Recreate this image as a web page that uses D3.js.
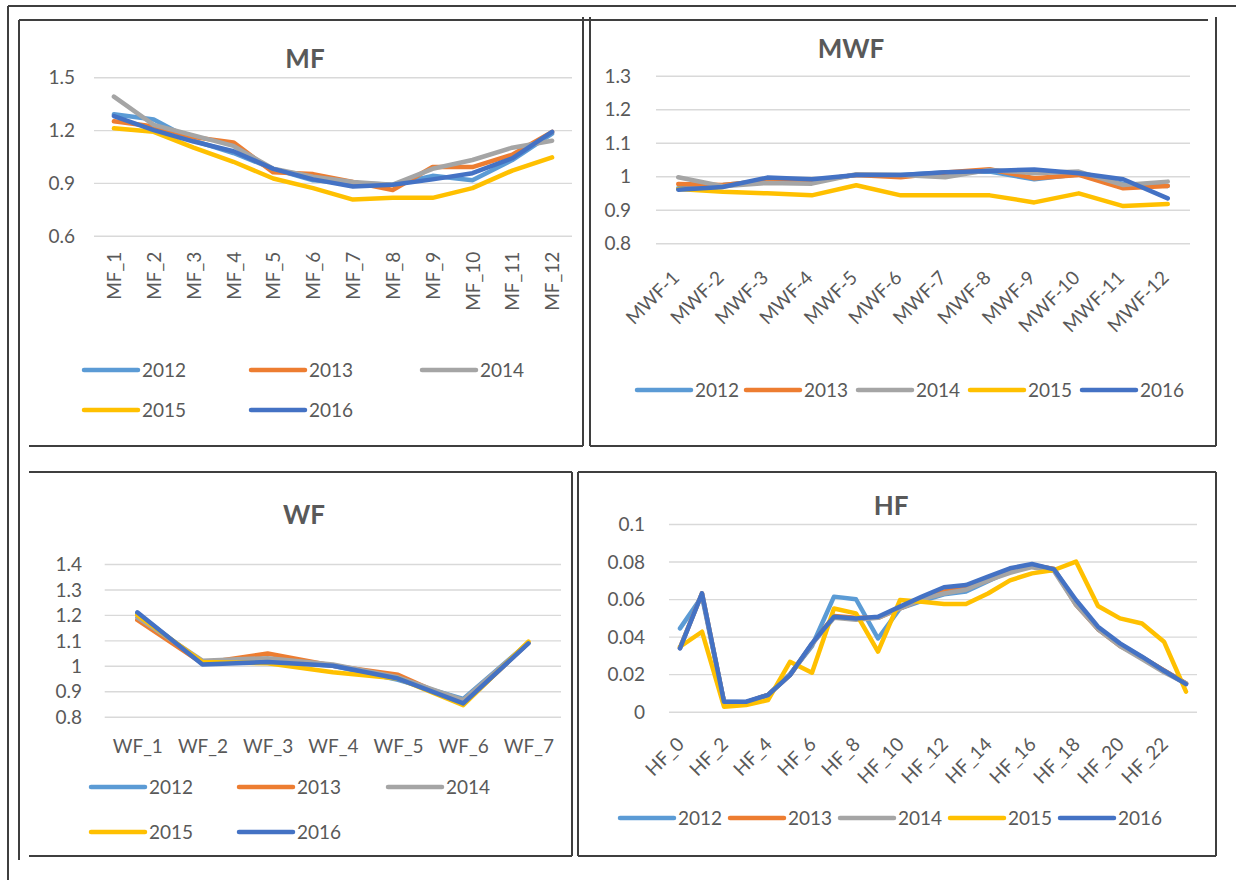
<!DOCTYPE html>
<html><head><meta charset="utf-8">
<script src="https://cdn.jsdelivr.net/npm/d3@7"></script>
<style>body{margin:0;background:#fff}</style>
</head><body>
<svg id="c" width="1236" height="880"></svg>
<script>
// ---------- DATA ----------
const years = ["2012", "2013", "2014", "2015", "2016"];
const yearColors = ["#5B9BD5", "#ED7D31", "#A5A5A5", "#FFC000", "#4472C4"];

const mfCategories = ["MF_1","MF_2","MF_3","MF_4","MF_5","MF_6","MF_7","MF_8","MF_9","MF_10","MF_11","MF_12"];
const mf2012 = [1.29, 1.26, 1.14, 1.07, 0.98, 0.915, 0.90, 0.89, 0.94, 0.915, 1.03, 1.18];
const mf2013 = [1.25, 1.22, 1.16, 1.13, 0.96, 0.95, 0.905, 0.86, 0.99, 0.99, 1.06, 1.19];
const mf2014 = [1.39, 1.23, 1.17, 1.11, 0.98, 0.935, 0.905, 0.89, 0.98, 1.03, 1.10, 1.14];
const mf2015 = [1.21, 1.19, 1.10, 1.02, 0.925, 0.87, 0.805, 0.815, 0.815, 0.87, 0.97, 1.045];
const mf2016 = [1.28, 1.20, 1.135, 1.08, 0.98, 0.92, 0.88, 0.89, 0.92, 0.955, 1.04, 1.19];
const mfTicks = [0.6, 0.9, 1.2, 1.5];
const mfTickLabels = ["0.6", "0.9", "1.2", "1.5"];

const mwfCategories = ["MWF-1","MWF-2","MWF-3","MWF-4","MWF-5","MWF-6","MWF-7","MWF-8","MWF-9","MWF-10","MWF-11","MWF-12"];
const mwf2012 = [0.964, 0.974, 0.987, 0.987, 1.004, 1.004, 1.011, 1.014, 0.991, 1.006, 0.977, 0.971];
const mwf2013 = [0.977, 0.974, 0.987, 0.987, 1.004, 0.997, 1.011, 1.021, 0.994, 1.004, 0.964, 0.971];
const mwf2014 = [0.997, 0.970, 0.980, 0.978, 1.006, 1.004, 0.997, 1.019, 1.009, 1.014, 0.974, 0.984];
const mwf2015 = [0.962, 0.954, 0.949, 0.943, 0.973, 0.943, 0.943, 0.943, 0.922, 0.949, 0.911, 0.917];
const mwf2016 = [0.960, 0.968, 0.996, 0.991, 1.004, 1.004, 1.012, 1.016, 1.020, 1.009, 0.991, 0.934];
const mwfTicks = [0.8, 0.9, 1.0, 1.1, 1.2, 1.3];
const mwfTickLabels = ["0.8", "0.9", "1", "1.1", "1.2", "1.3"];

const wfCategories = ["WF_1","WF_2","WF_3","WF_4","WF_5","WF_6","WF_7"];
const wf2012 = [1.205, 1.010, 1.020, 1.000, 0.945, 0.870, 1.090];
const wf2013 = [1.180, 1.010, 1.048, 1.000, 0.965, 0.850, 1.090];
const wf2014 = [1.190, 1.020, 1.030, 1.005, 0.955, 0.865, 1.090];
const wf2015 = [1.200, 1.015, 1.010, 0.975, 0.950, 0.845, 1.095];
const wf2016 = [1.210, 1.005, 1.015, 1.000, 0.950, 0.852, 1.088];
const wfTicks = [0.8, 0.9, 1.0, 1.1, 1.2, 1.3, 1.4];
const wfTickLabels = ["0.8", "0.9", "1", "1.1", "1.2", "1.3", "1.4"];

const hfCategories = ["HF_0","HF_1","HF_2","HF_3","HF_4","HF_5","HF_6","HF_7","HF_8","HF_9","HF_10","HF_11",
                      "HF_12","HF_13","HF_14","HF_15","HF_16","HF_17","HF_18","HF_19","HF_20","HF_21","HF_22","HF_23"];
const hfLabelCategories = ["HF_0","HF_2","HF_4","HF_6","HF_8","HF_10","HF_12","HF_14","HF_16","HF_18","HF_20","HF_22"];
const hf2012 = [0.0444, 0.0613, 0.0053, 0.0050, 0.0090, 0.0200, 0.0350, 0.0613, 0.0599, 0.0390, 0.0550, 0.0590,
                0.0625, 0.0640, 0.0695, 0.0750, 0.0780, 0.0760, 0.0580, 0.0440, 0.0360, 0.0290, 0.0220, 0.0150];
const hf2013 = [0.0340, 0.0630, 0.0050, 0.0050, 0.0090, 0.0195, 0.0360, 0.0510, 0.0500, 0.0500, 0.0550, 0.0600,
                0.0640, 0.0660, 0.0700, 0.0750, 0.0780, 0.0760, 0.0570, 0.0440, 0.0350, 0.0290, 0.0220, 0.0150];
const hf2014 = [0.0340, 0.0630, 0.0050, 0.0050, 0.0090, 0.0195, 0.0360, 0.0500, 0.0490, 0.0500, 0.0550, 0.0600,
                0.0630, 0.0650, 0.0700, 0.0740, 0.0770, 0.0750, 0.0570, 0.0440, 0.0350, 0.0280, 0.0210, 0.0150];
const hf2015 = [0.0346, 0.0426, 0.0027, 0.0036, 0.0062, 0.0266, 0.0208, 0.0550, 0.0524, 0.0320, 0.0595, 0.0586,
                0.0574, 0.0574, 0.0630, 0.0700, 0.0737, 0.0755, 0.0800, 0.0563, 0.0497, 0.0470, 0.0373, 0.0107];
const hf2016 = [0.0337, 0.0630, 0.0053, 0.0053, 0.0089, 0.0195, 0.0364, 0.0506, 0.0497, 0.0506, 0.0560, 0.0613,
                0.0663, 0.0675, 0.0720, 0.0764, 0.0787, 0.0758, 0.0595, 0.0453, 0.0364, 0.0293, 0.0218, 0.0147];
const hfTicks = [0, 0.02, 0.04, 0.06, 0.08, 0.1];
const hfTickLabels = ["0", "0.02", "0.04", "0.06", "0.08", "0.1"];

// ---------- DRAW ----------
const FONT = "Lato, 'Open Sans', sans-serif";
const TXT = "#595959";
const svg = d3.select("#c");
svg.append("rect").attr("width", 1236).attr("height", 880).attr("fill", "#fff");

// frames
const frame = svg.append("g").attr("stroke", "#3f3f3f").attr("stroke-width", 2).attr("fill", "none");
[
  [8, 6, 1236, 6], [8, 6, 8, 880],
  [19, 20, 1208, 20], [19, 20, 19, 860],
  [583, 17, 583, 446], [29, 446, 583, 446],
  [590, 17, 590, 446], [590, 446, 1216, 446], [1216, 17, 1216, 446],
  [29, 472, 572, 472], [572, 472, 572, 856], [29, 856, 572, 856],
  [578, 472, 1216, 472], [578, 472, 578, 856], [578, 856, 1216, 856], [1216, 472, 1216, 856]
].forEach(s => frame.append("line").attr("x1", s[0]).attr("y1", s[1]).attr("x2", s[2]).attr("y2", s[3]));

function drawPanel(p) {
  const g = svg.append("g");
  const x = d3.scalePoint().domain(p.categories).range([p.left, p.right]).padding(0.5);
  const y = d3.scaleLinear().domain([p.ticks[0], p.ticks[p.ticks.length - 1]]).range([p.bottom, p.top]);

  // y axis with gridlines
  const ya = g.append("g").attr("transform", `translate(${p.left},0)`)
    .call(d3.axisLeft(y).tickValues(p.ticks).tickSize(-(p.right - p.left))
      .tickFormat((d, i) => p.tickLabels[i]));
  ya.attr("font-family", FONT).attr("font-size", 19);
  ya.select(".domain").remove();
  ya.selectAll(".tick line").attr("stroke", "#d9d9d9").attr("stroke-width", 1.4);
  ya.selectAll(".tick text").attr("x", p.labelRight - p.left).attr("fill", TXT).attr("dy", "0.35em");

  // x axis labels
  const xa = g.append("g").attr("transform", `translate(0,${p.bottom})`)
    .call(d3.axisBottom(x).tickSize(0).tickValues(p.labelCats));
  xa.attr("font-family", FONT).attr("font-size", 19);
  xa.select(".domain").remove();
  const xt = xa.selectAll(".tick text").attr("fill", TXT);
  if (p.rot === 0) {
    xt.attr("y", p.xOff).attr("dy", "0.35em").attr("text-anchor", "middle");
  } else if (p.rot === -90) {
    xt.attr("y", 0).attr("x", 0).attr("dy", "0.35em").attr("text-anchor", "end")
      .attr("transform", `translate(0,${p.xOff}) rotate(-90)`);
  } else {
    xt.attr("y", 0).attr("x", 0).attr("dy", "0.35em").attr("text-anchor", "end")
      .attr("transform", `translate(${p.xDx},${p.xOff}) rotate(-45)`);
  }

  // lines
  const line = d3.line().x((d, i) => x(p.categories[i])).y(d => y(d));
  p.series.forEach((s, k) => {
    g.append("path").attr("d", line(s)).attr("fill", "none")
      .attr("stroke", yearColors[k]).attr("stroke-width", 4.5)
      .attr("stroke-linejoin", "round").attr("stroke-linecap", "round");
  });

  // title
  g.append("text").attr("x", p.titleX).attr("y", p.titleY).attr("text-anchor", "middle")
    .attr("font-family", FONT).attr("font-weight", "bold").attr("font-size", 26)
    .attr("fill", TXT).text(p.title);

  // legend
  years.forEach((yr, k) => {
    const pos = p.legend[k];
    const lg = g.append("g").attr("transform", `translate(${pos[0]},${pos[1]})`);
    lg.append("line").attr("x1", 0).attr("x2", 54).attr("y1", 0).attr("y2", 0)
      .attr("stroke", yearColors[k]).attr("stroke-width", 4.5).attr("stroke-linecap", "round");
    lg.append("text").attr("x", 58).attr("y", 0).attr("dy", "0.35em")
      .attr("font-family", FONT).attr("font-size", 19).attr("fill", TXT).text(yr);
  });
}

drawPanel({
  title: "MF", titleX: 305, titleY: 68,
  categories: mfCategories, labelCats: mfCategories,
  series: [mf2012, mf2013, mf2014, mf2015, mf2016],
  ticks: mfTicks, tickLabels: mfTickLabels,
  left: 94, right: 572, top: 77.3, bottom: 235.7, labelRight: 75,
  rot: -90, xOff: 16,
  legend: [[84, 370], [251, 370], [422, 370], [84, 410], [251, 410]]
});
drawPanel({
  title: "MWF", titleX: 851, titleY: 58,
  categories: mwfCategories, labelCats: mwfCategories,
  series: [mwf2012, mwf2013, mwf2014, mwf2015, mwf2016],
  ticks: mwfTicks, tickLabels: mwfTickLabels,
  left: 656, right: 1190, top: 75.7, bottom: 243.3, labelRight: 631,
  rot: -45, xOff: 31, xDx: -3,
  legend: [[637, 390], [746, 390], [858, 390], [970, 390], [1082, 390]]
});
drawPanel({
  title: "WF", titleX: 304, titleY: 524,
  categories: wfCategories, labelCats: wfCategories,
  series: [wf2012, wf2013, wf2014, wf2015, wf2016],
  ticks: wfTicks, tickLabels: wfTickLabels,
  left: 104.7, right: 561, top: 564, bottom: 716.7, labelRight: 82,
  rot: 0, xOff: 30,
  legend: [[91, 787], [239, 787], [388, 787], [91, 832], [239, 832]]
});
drawPanel({
  title: "HF", titleX: 891, titleY: 515,
  categories: hfCategories, labelCats: hfLabelCategories,
  series: [hf2012, hf2013, hf2014, hf2015, hf2016],
  ticks: hfTicks, tickLabels: hfTickLabels,
  left: 669, right: 1197, top: 524, bottom: 711.7, labelRight: 645,
  rot: -45, xOff: 29, xDx: 0,
  legend: [[620, 818], [730, 818], [840, 818], [950, 818], [1060, 818]]
});
</script>
</body></html>
